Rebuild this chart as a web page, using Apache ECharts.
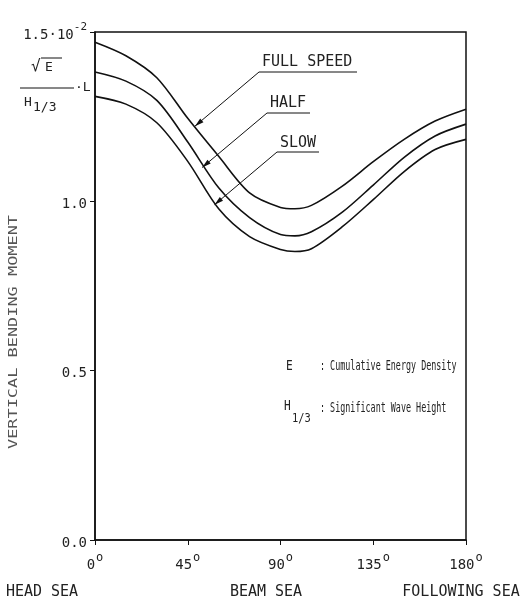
<!DOCTYPE html>
<html>
<head>
<meta charset="utf-8">
<script src="https://cdn.jsdelivr.net/npm/echarts@6/dist/echarts.min.js"></script>
<style>
html,body{margin:0;padding:0;background:#fff;}
#c{width:525px;height:607px;}
</style>
</head>
<body>
<div id="c"></div>
<script>
// heading angle (deg) and non-dimensional vertical bending moment (x10^-2)
const angles = [0, 15, 30, 45, 60, 75, 90, 97, 105, 120, 135, 150, 165, 180];
const fullSpeed = [1.47, 1.43, 1.365, 1.245, 1.133, 1.025, 0.982, 0.978, 0.988, 1.045, 1.117, 1.183, 1.237, 1.272];
const halfSpeed = [1.382, 1.355, 1.298, 1.175, 1.04, 0.952, 0.902, 0.898, 0.91, 0.968, 1.048, 1.13, 1.193, 1.228];
const slowSpeed = [1.31, 1.287, 1.232, 1.118, 0.978, 0.896, 0.858, 0.852, 0.86, 0.925, 1.005, 1.088, 1.153, 1.183];
const seriesNames = ['FULL SPEED', 'HALF', 'SLOW'];
const seaLabels = ['HEAD SEA', 'BEAM SEA', 'FOLLOWING SEA'];

const FONT = 'DejaVu Sans Mono';
const INK = '#111';
const chart = echarts.init(document.getElementById('c'));
const pair = arr => angles.map((a, i) => [a, arr[i]]);

const mk = (name, arr) => ({
  name, type: 'line', data: pair(arr), smooth: 0.3, showSymbol: false,
  lineStyle: {color: INK, width: 1.6}, silent: true
});

chart.setOption({
  animation: false,
  backgroundColor: '#fff',
  grid: {left: 95, right: 59, top: 32, bottom: 67, show: true, borderColor: INK, borderWidth: 1.5},
  xAxis: {
    type: 'value', min: 0, max: 180, interval: 45,
    axisLine: {lineStyle: {color: INK, width: 1.5}},
    axisTick: {show: true, length: 5, lineStyle: {color: INK}},
    splitLine: {show: false},
    axisLabel: {
      margin: 12, fontFamily: FONT, fontSize: 14, color: '#222',
      formatter: v => '{n|' + v + '}{s|o}',
      rich: {
        n: {fontFamily: FONT, fontSize: 14, color: '#222', lineHeight: 20, verticalAlign: 'bottom'},
        s: {fontFamily: FONT, fontSize: 12, color: '#222', lineHeight: 20, verticalAlign: 'top', padding: [0, 0, 0, 1]}
      }
    }
  },
  yAxis: {
    type: 'value', min: 0, max: 1.5, interval: 0.5,
    axisLine: {show: true, lineStyle: {color: INK, width: 1.5}},
    axisTick: {show: true, length: 5, lineStyle: {color: INK}},
    splitLine: {show: false},
    axisLabel: {
      margin: 8, fontFamily: FONT, fontSize: 14, color: '#222',
      formatter: v => v === 1.5 ? '{n|1.5·10}{s|-2}' : '{n|' + v.toFixed(1) + '}',
      rich: {
        n: {fontFamily: FONT, fontSize: 14, color: '#222', lineHeight: 20, verticalAlign: 'bottom'},
        s: {fontFamily: FONT, fontSize: 11, color: '#222', lineHeight: 20, verticalAlign: 'top'}
      }
    }
  },
  series: [mk(seriesNames[0], fullSpeed), mk(seriesNames[1], halfSpeed), mk(seriesNames[2], slowSpeed)]
});

// annotation helpers
const txt = (x, y, text, size, opts, sx) => ({
  type: 'text', x, y, silent: true, scaleX: sx || 1,
  style: Object.assign({text, fill: '#222', font: size + 'px "' + FONT + '"', textVerticalAlign: 'middle'}, opts || {})
});
const ln = (x1, y1, x2, y2, w) => ({type: 'line', silent: true, shape: {x1, y1, x2, y2}, style: {stroke: INK, lineWidth: w || 1}});
const arrow = (x, y, ang) => ({
  type: 'polygon', silent: true, x, y, rotation: ang,
  shape: {points: [[0, 0], [9, -2.5], [9, 2.5]]}, style: {fill: INK}
});

// leader endpoints on curves (data coords -> pixels)
const tips = [
  chart.convertToPixel({gridIndex: 0}, [48.5, 1.222]),
  chart.convertToPixel({gridIndex: 0}, [52, 1.10]),
  chart.convertToPixel({gridIndex: 0}, [58, 0.99])
];
const labelBoxes = [
  {x: 262, y: 62, ux1: 259, ux2: 357, uy: 72},
  {x: 270, y: 103, ux1: 267, ux2: 310, uy: 113},
  {x: 280, y: 143, ux1: 277, ux2: 319, uy: 152}
];
const g = [];
labelBoxes.forEach((b, i) => {
  g.push(txt(b.x, b.y, seriesNames[i], 15));
  g.push(ln(b.ux1, b.uy, b.ux2, b.uy, 1));
  const t = tips[i];
  g.push(ln(b.ux1, b.uy, t[0], t[1], 1));
  const ang = Math.atan2(b.uy - t[1], b.ux1 - t[0]);
  g.push(arrow(t[0], t[1], -ang));
});

// description of symbols
const SX = 0.6;
g.push(txt(286, 366, 'E', 14, null, 0.8));
g.push(txt(320, 366, ': Cumulative Energy Density', 14, null, SX));
g.push(txt(284, 406, 'H', 14, null, 0.8));
g.push(txt(292, 419, '1/3', 13, null, 0.8));
g.push(txt(320, 408, ': Significant Wave Height', 14, null, SX));

// y-axis unit
g.push(txt(31, 67, '√', 16));
g.push(ln(41, 58, 62, 58, 1));
g.push(txt(45, 68, 'E', 13));
g.push(ln(20, 88, 74, 88, 1));
g.push(txt(24, 103, 'H', 13));
g.push(txt(33, 108, '1/3', 13));
g.push(txt(75, 88, '·L', 13));

// y-axis title
g.push({type: 'text', x: 14, y: 332, rotation: Math.PI / 2, scaleX: 1.3, silent: true,
  style: {text: 'VERTICAL BENDING MOMENT', fill: '#555', font: '13px "' + FONT + '"',
    textAlign: 'center', textVerticalAlign: 'middle'}});

// sea condition labels
const seaPos = [[42, 592], [266, 592], [461, 592]];
seaLabels.forEach((s, i) => {
  g.push({type: 'text', x: seaPos[i][0], y: seaPos[i][1], silent: true,
    style: {text: s, fill: '#222', font: '15px "' + FONT + '"', textAlign: 'center', textVerticalAlign: 'middle'}});
});

chart.setOption({graphic: g});
</script>
</body>
</html>
